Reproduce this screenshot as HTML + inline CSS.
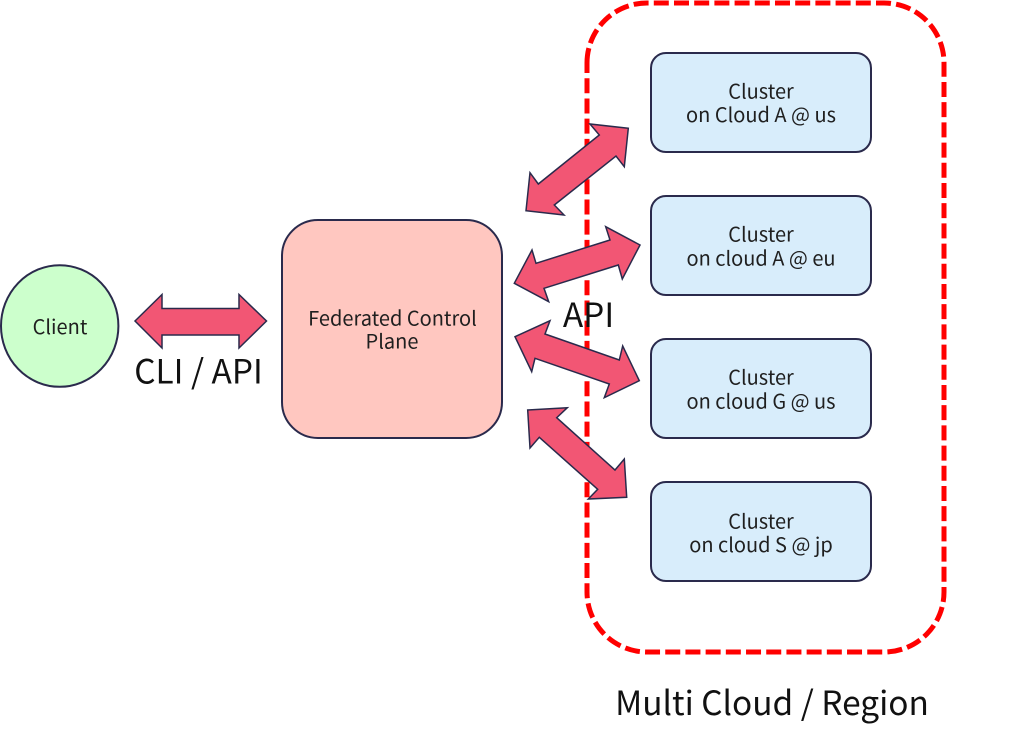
<!DOCTYPE html>
<html>
<head>
<meta charset="utf-8">
<style>
html,body{margin:0;padding:0;background:#fff;width:1024px;height:732px;overflow:hidden}
svg{display:block}
text{font-family:"Noto Sans CJK JP","Liberation Sans",sans-serif;fill:#1f1f1f;text-anchor:middle}
.s{font-size:20px}
.l{font-size:33.4px;fill:#111}
.box{fill:#d8edfb;stroke:#2a2a4c;stroke-width:2}
.arr{fill:#f25674;stroke:#2a2a4c;stroke-width:1.5;stroke-linejoin:miter}
</style>
</head>
<body>
<svg width="1024" height="732" viewBox="0 0 1024 732" xmlns="http://www.w3.org/2000/svg">
<path d="M587 63 A60 60 0 0 1 647 3 H884 A60 60 0 0 1 944 63 V592 A60 60 0 0 1 884 652 H647 A60 60 0 0 1 587 592 V63" fill="none" stroke="#ff0000" stroke-width="5" stroke-dasharray="15 5.2"/>

<ellipse cx="59.7" cy="326" rx="58.7" ry="60.8" fill="#ccffcc" stroke="#2a2a4c" stroke-width="2"/>
<text class="s" x="60" y="334">Client</text>

<rect x="282" y="220" width="220" height="218" rx="36" ry="36" fill="#ffc7c0" stroke="#2a2a4c" stroke-width="2"/>
<text class="s" x="392.5" y="325.5">Federated Control</text>
<text class="s" x="392" y="348.5">Plane</text>

<rect class="box" x="651" y="53" width="220" height="99" rx="15" ry="15"/>
<text class="s" x="761" y="98.7">Cluster</text>
<text class="s" x="761" y="122">on Cloud A @ us</text>

<rect class="box" x="651" y="196" width="220" height="99" rx="15" ry="15"/>
<text class="s" x="761" y="241.7">Cluster</text>
<text class="s" x="761" y="265.4">on cloud A @ eu</text>

<rect class="box" x="651" y="339" width="220" height="99" rx="15" ry="15"/>
<text class="s" x="761" y="384.7">Cluster</text>
<text class="s" x="761" y="408.4">on cloud G @ us</text>

<rect class="box" x="651" y="482" width="220" height="99" rx="15" ry="15"/>
<text class="s" x="761" y="528.7">Cluster</text>
<text class="s" x="761" y="552">on cloud S @ jp</text>

<polygon class="arr" points="135,321 162,294.5 162,308.5 239,308.5 239,294.5 266.5,321 239,348 239,335 162,335 162,348"/>
<polygon class="arr" points="628.3,128.3 590,124 599.3,135 538.3,184 530,172.7 526,210.7 564,215 554.3,205 616,156 624.3,166.7"/>
<polygon class="arr" points="640,245 605.7,226.7 610,240 536,263.3 532,250 514.3,283.3 548.7,301.7 544,288.3 618.3,265 622.3,279"/>
<polygon class="arr" points="515,336.7 550,320.7 545,334 619.3,360 622.7,346 639.3,380.7 604.3,397.7 609.3,384 535,358.3 531.7,371.7"/>
<polygon class="arr" points="527.7,410 567.3,407.7 556.7,417.7 615,470 624.3,459 626.7,497.3 588.3,499 597.7,489.3 539.3,437.3 530,448"/>

<text class="l" x="198.5" y="383.7">CLI / API</text>
<text class="l" x="588.5" y="327">API</text>
<text class="l" x="772" y="715">Multi Cloud / Region</text>
</svg>
</body>
</html>
